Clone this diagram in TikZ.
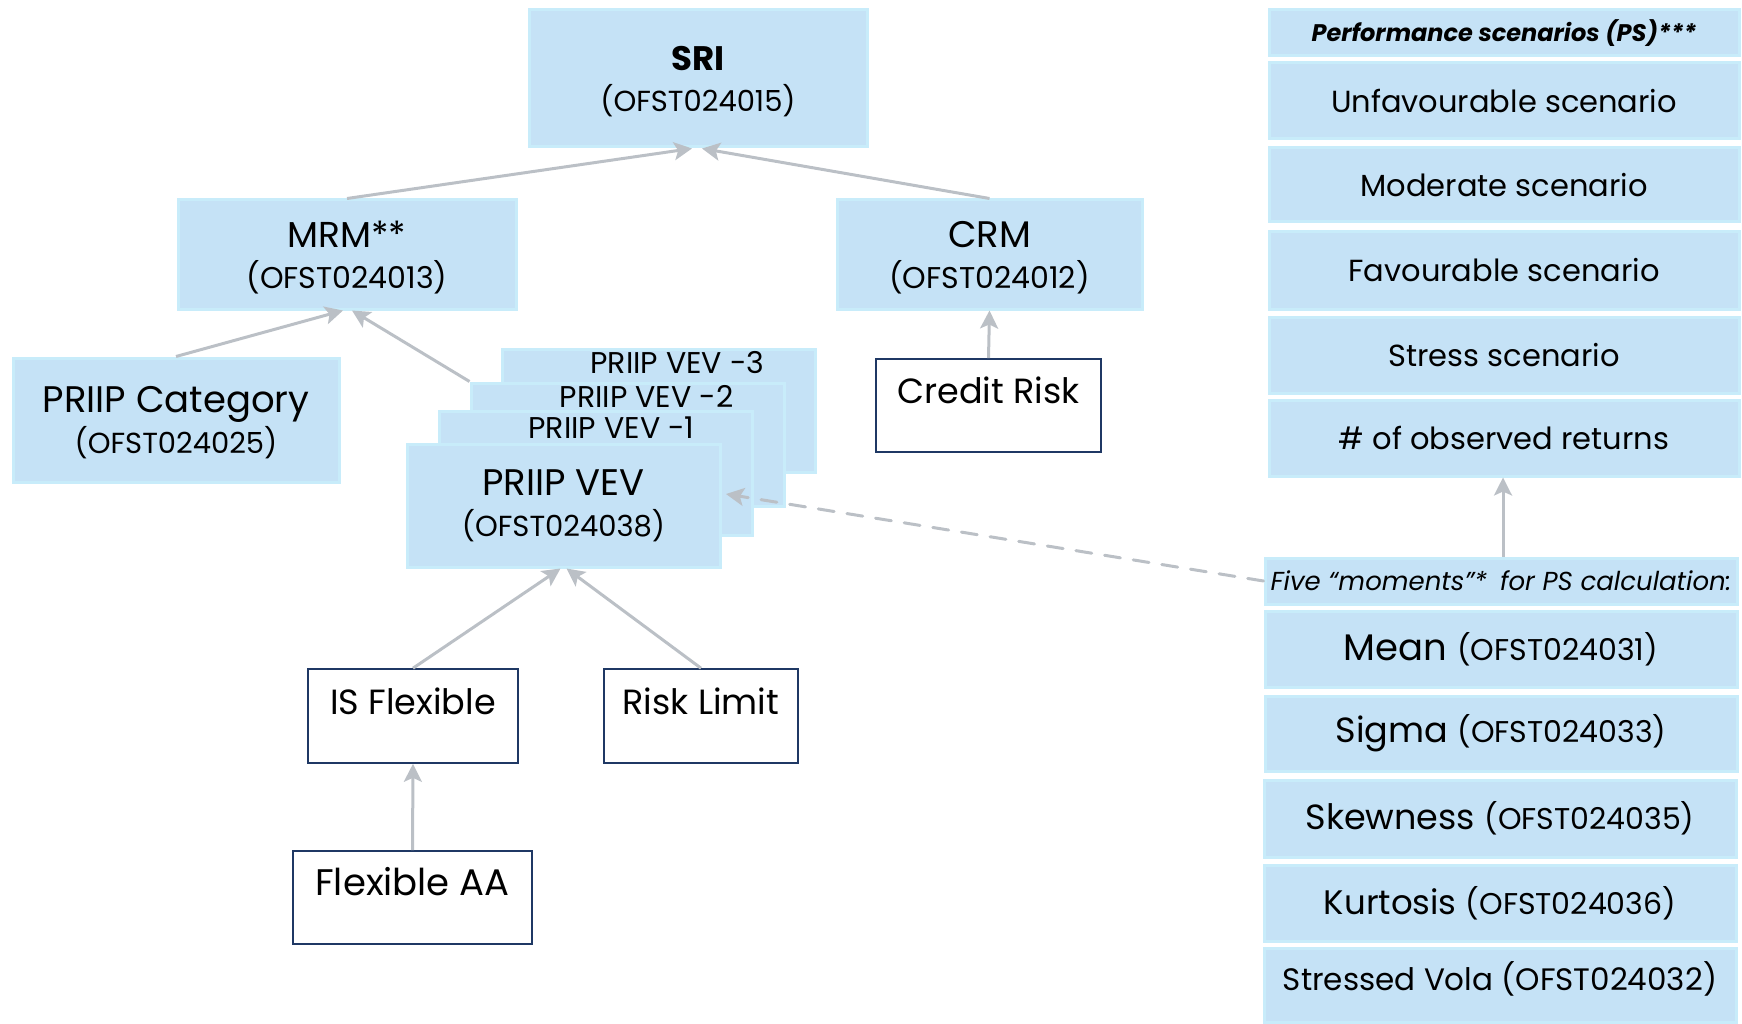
\documentclass[tikz,border=0pt]{standalone}
\usepackage{fontspec}
\setmainfont{Poppins}
\usetikzlibrary{arrows.meta,calc}
\definecolor{boxfill}{RGB}{197,226,246}
\definecolor{boxedge}{RGB}{200,236,250}
\definecolor{linkgray}{RGB}{187,192,198}
\definecolor{navy}{RGB}{31,56,100}
\newcommand\fsz[2]{\fontsize{#1}{#2}\selectfont}

\begin{document}
\begin{tikzpicture}[x=1pt,y=-1pt,
  bluebox/.style={fill=boxfill,draw=boxedge,line width=3,inner sep=0,align=center,text=black},
  twoline/.style={bluebox,font=\fsz{29}{41}},
  whitebox/.style={fill=white,draw=navy,line width=1.6,inner sep=0,align=center,
    font=\fsz{35}{40},text height=25,text depth=29},
  link/.style={draw=linkgray,line width=3,-{Stealth[length=18,width=18,inset=4]}},
  dashlink/.style={link,dash pattern=on 16 off 13,line cap=round},
  ps/.style={bluebox,minimum width=470,font=\fsz{30.5}{36}},
  mom/.style={bluebox,minimum width=472,font=\fsz{31}{36}},
  vevlabel/.style={font=\fsz{30}{34},anchor=base},
]
\useasboundingbox (0,0) rectangle (1742,1024);

% decision tree
\node[twoline,minimum width=338,minimum height=137,text depth=-13] (sri) at (698,78.5)
  {{\fsz{34}{41}\bfseries SRI}\\(OFST024015)};
\node[twoline,minimum width=338,minimum height=109,text depth=-4] (mrm) at (347,254.5)
  {{\fsz{36}{41}MRM**}\\\fsz{30}{41}(OFST024013)};
\node[twoline,minimum width=305,minimum height=109,text depth=-3] (crm) at (989.5,254.5)
  {{\fsz{37}{41}CRM}\\\fsz{30}{41}(OFST024012)};
\node[twoline,minimum width=326,minimum height=124,text depth=-7] (cat) at (176,420)
  {{\fsz{37}{41}PRIIP Category}\\(OFST024025)};

% stacked earlier VEV records
\node[bluebox,minimum width=313,minimum height=123] (vev3) at (658.5,410.5) {};
\node[vevlabel] (vev3t) at ($(vev3.north)+(19,26)$) {PRIIP VEV -3};
\node[bluebox,minimum width=313,minimum height=123] (vev2) at (627.5,444.5) {};
\node[vevlabel] (vev2t) at ($(vev2.north)+(19,26)$) {PRIIP VEV -2};
\node[bluebox,minimum width=313,minimum height=124] (vev1) at (595.5,473) {};
\node[vevlabel] (vev1t) at ($(vev1.north)+(16,29)$) {PRIIP VEV -1};
\node[twoline,minimum width=313,minimum height=123] (vev) at (563.5,505.5)
  {{\fsz{37}{41}PRIIP VEV}\\(OFST024038)};

\node[whitebox,minimum width=225,minimum height=93] (credit) at (988.5,405.5) {Credit Risk};
\node[whitebox,minimum width=210,minimum height=94] (isf) at (413,716) {IS Flexible};
\node[whitebox,minimum width=194,minimum height=94] (rl) at (701,716) {Risk Limit};
\node[whitebox,minimum width=239,minimum height=93,font=\fsz{37}{40}] (faa) at (412.5,897.5) {Flexible AA};

% performance scenarios
\node[ps,minimum height=46,font=\fsz{24}{28}\bfseries\itshape] (psh) at (1504,33)
  {Performance scenarios (PS)***};
\node[ps,minimum height=76] (unf) at (1504,101) {Unfavourable scenario};
\node[ps,minimum height=74] (mod) at (1504,185) {Moderate scenario};
\node[ps,minimum height=77] (fav) at (1504,270.5) {Favourable scenario};
\node[ps,minimum height=76] (str) at (1504,355) {Stress scenario};
\node[ps,minimum height=76] (obs) at (1504,438) {\# of observed returns};

% moments
\node[mom,minimum height=46,font=\fsz{26}{30}\itshape] (five) at (1501,581)
  {Five \textquotedblleft moments\textquotedblright*\enspace for PS calculation:};
\node[mom,minimum height=76] (mean) at (1501,649) {\fsz{37}{40}Mean \fsz{30}{40}(OFST024031)};
\node[mom,minimum height=75] (sigma) at (1501,733.5) {\fsz{35}{40}Sigma \fsz{30}{40}(OFST024033)};
\node[mom,minimum height=77] (skew) at (1500,818.5) {\fsz{35}{40}Skewness \fsz{30}{40}(OFST024035)};
\node[mom,minimum height=76] (kurt) at (1500,903) {\fsz{34}{40}Kurtosis \fsz{30}{40}(OFST024036)};
\node[mom,minimum height=74,text height=23,text depth=13] (vola) at (1500,985)
  {Stressed Vola (OFST024032)};

% connectors
\draw[link] (mrm.north) -- ([xshift=-6]sri.south);
\draw[link] (crm.north) -- ([xshift=4]sri.south);
\draw[link] (cat.north) -- ([xshift=-4]mrm.south);
\draw[link] (vev2.north west) -- ([xshift=5]mrm.south);
\draw[link] (credit.north) -- (crm.south);
\draw[link] (isf.north) -- ([xshift=-3]vev.south);
\draw[link] (rl.north) -- ([xshift=3]vev.south);
\draw[link] (faa.north) -- (isf.south);
\draw[link] ([xshift=2]five.north) -- ([xshift=-1]obs.south);
\coordinate (vevtip) at (726,494);
\draw[dashlink] (five.west) -- (vevtip);
\end{tikzpicture}
\end{document}
